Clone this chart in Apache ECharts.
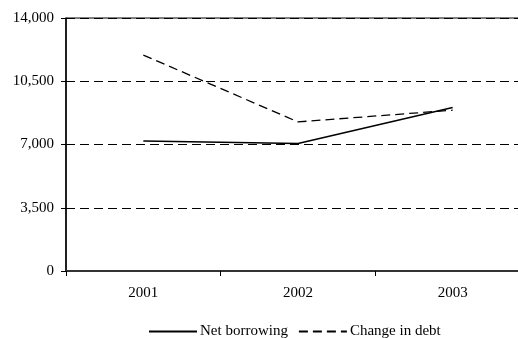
<!DOCTYPE html>
<html>
<head>
<meta charset="utf-8">
<script src="https://cdn.jsdelivr.net/npm/echarts@6/dist/echarts.min.js"></script>
<style>
html,body{margin:0;padding:0;background:#fff;overflow:hidden;width:518px;height:338px;}
#chart{width:530px;height:338px;}
</style>
</head>
<body>
<div id="chart"></div>
<script>
const categories = ['2001', '2002', '2003'];
const netBorrowing = [7200, 7050, 9050];
const changeInDebt = [11950, 8250, 8900];
const yTicks = [0, 3500, 7000, 10500, 14000];

const chart = echarts.init(document.getElementById('chart'), null, {renderer: 'canvas'});
const font = 'Liberation Serif';
chart.setOption({
  animation: false,
  backgroundColor: '#fff',
  textStyle: {fontFamily: font},
  grid: {left: 66, top: 18, right: 0, bottom: 67, show: true, borderColor: '#000', borderWidth: 1, backgroundColor: 'transparent'},
  legend: {
    left: 148, top: 324, padding: 0,
    itemWidth: 48, itemHeight: 14, itemGap: 10,
    itemStyle: {opacity: 0},
    textStyle: {fontFamily: font, fontSize: 15, color: '#000', padding: [0, 0, 0, -2]},
    data: ['Net borrowing', 'Change in debt']
  },
  xAxis: {
    type: 'category',
    data: categories,
    boundaryGap: true,
    axisLine: {lineStyle: {color: '#333', width: 2}},
    axisTick: {show: true, length: 5, lineStyle: {color: '#000', width: 1}},
    axisLabel: {fontFamily: font, fontSize: 15, color: '#000', margin: 15}
  },
  yAxis: {
    type: 'value',
    min: yTicks[0], max: yTicks[yTicks.length - 1], interval: 3500,
    axisLine: {show: true, lineStyle: {color: '#000', width: 1.5}},
    axisTick: {show: true, length: 5, lineStyle: {color: '#000', width: 1}},
    axisLabel: {fontFamily: font, fontSize: 15, color: '#000', margin: 12,
      formatter: v => v.toLocaleString('en-US')},
    splitLine: {show: true, lineStyle: {color: '#000', width: 1, type: [9, 5]}}
  },
  series: [
    {name: 'Net borrowing', type: 'line', data: netBorrowing, symbol: 'none',
      lineStyle: {color: '#000', width: 1.5, type: 'solid'}, itemStyle: {color: '#000'}},
    {name: 'Change in debt', type: 'line', data: changeInDebt, symbol: 'none',
      lineStyle: {color: '#000', width: 1.3, type: [9, 5]}, itemStyle: {color: '#000'}}
  ]
});
</script>
</body>
</html>
